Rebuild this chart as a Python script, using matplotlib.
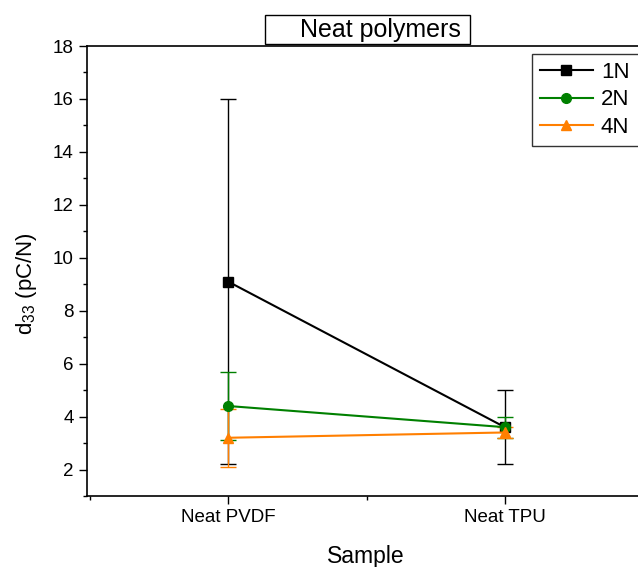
import matplotlib
matplotlib.use("Agg")
import matplotlib.pyplot as plt
from matplotlib.patches import Rectangle
from matplotlib.lines import Line2D
from matplotlib.ticker import MultipleLocator, FixedLocator

plt.rcParams['font.family'] = ['Liberation Sans', 'DejaVu Sans']
plt.rcParams['mathtext.fontset'] = 'custom'
plt.rcParams['mathtext.rm'] = 'Liberation Sans'
plt.rcParams['mathtext.it'] = 'Liberation Sans:italic'

categories = ["Neat PVDF", "Neat TPU"]
series_names = ["1N", "2N", "4N"]
values_1N = [9.1, 3.6]
errors_1N = [6.9, 1.4]
values_2N = [4.4, 3.6]
errors_2N = [1.3, 0.4]
values_4N = [3.2, 3.4]
errors_4N = [1.1, 0.2]

colors = ["#000000", "#008000", "#FF7F00"]
markers = ["s", "o", "^"]

fig = plt.figure(figsize=(6.38, 5.67), dpi=100)
ax = fig.add_axes([87/638, 71/567, (646-87)/638, (496-46)/567])

x = [1, 2]
handles = []
for vals, errs, name, c, m in zip([values_1N, values_2N, values_4N],
                                  [errors_1N, errors_2N, errors_4N],
                                  series_names, colors, markers):
    ax.errorbar(x, vals, yerr=errs, color=c, marker=m, markersize=7, lw=1.5,
                capsize=5.5, elinewidth=1.0, capthick=1.0)
    handles.append(Line2D([], [], color=c, marker=m, markersize=7, lw=1.5, label=name))

ax.set_xlim(0.49, 2.51)
ax.set_ylim(1.0, 18.0)
ax.set_yticks([2, 4, 6, 8, 10, 12, 14, 16, 18])
ax.yaxis.set_minor_locator(MultipleLocator(1))
ax.set_xticks(x)
ax.set_xticklabels(categories)
ax.xaxis.set_minor_locator(FixedLocator([0.5, 1.5, 2.5]))
ax.tick_params(axis='both', which='major', direction='out', length=6, width=1, labelsize=13.5)
ax.tick_params(axis='both', which='minor', direction='out', length=3, width=1)
for s in ax.spines.values():
    s.set_linewidth(1.2)
ax.set_ylabel("d$_{33}$ (pC/N)", fontsize=16)
ax.yaxis.set_label_coords(-0.085, 0.473)
ax.set_xlabel("Sample", fontsize=16.5)
ax.xaxis.set_label_coords(0.498, -0.108)

# title box
fig.patches.append(Rectangle((265/638, 1-44/567), (470-265)/638, (44-15)/567,
                             transform=fig.transFigure, fill=False, ec='black', lw=1.0))
fig.text(300/638, 1-30/567, "Neat polymers", fontsize=18, ha='left', va='center')

leg = fig.legend(handles=handles, loc='upper left',
                 bbox_to_anchor=(532/638, 1-54/567, (650-532)/638, 0.0), mode='expand',
                 borderaxespad=0, fontsize=16, frameon=True, fancybox=False,
                 edgecolor='black', handlelength=2.4, labelspacing=0.3, borderpad=0.35,
                 handletextpad=0.35)
leg.get_frame().set_linewidth(1.0)

fig.savefig("out.png", dpi=100)
